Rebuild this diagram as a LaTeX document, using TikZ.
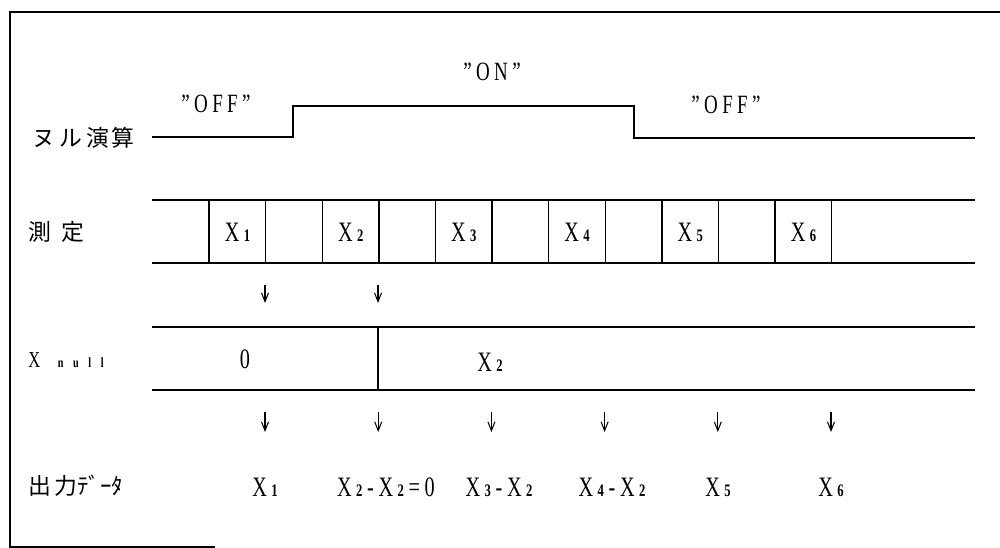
\documentclass[tikz,border=0pt]{standalone}
\usepackage{fontspec}
\setmainfont{Liberation Serif}[FakeStretch=0.72]
\newfontfamily\jp{Noto Sans CJK JP}
\usetikzlibrary{arrows.meta}
\newcommand\Xn[1]{X\kern2.5pt{\fontsize{10}{10}\selectfont\bfseries #1}}

\begin{document}
\begin{tikzpicture}[x=0.2mm, y=-0.2mm,
  rowlbl/.style={anchor=west, inner sep=0pt, font=\jp\fontsize{13}{15}\selectfont},
  val/.style={inner sep=0pt, font=\fontsize{16}{18}\selectfont},
  stat/.style={inner sep=0pt, font=\fontsize{15}{17}\selectfont},
  ln/.style={line width=0.8pt},
  arr/.style={-{Straight Barb[length=5pt,width=4pt]}, line width=0.6pt}
]
  \useasboundingbox (0,0) rectangle (1000,548);
  % frame
  \draw[ln] (215,547) -- (10,547) -- (10,12) -- (1000,12);

  % null calculation
  \node[rowlbl] (nul) at (32,138) {ヌ\hspace{2.5pt}ル\hspace{2.5pt}演\hspace{1pt}算};
  \draw[ln] (152,137) -- (293,137) -- (293,106) -- (634,106) -- (634,138) -- (975,138);
  \node[stat] (off1) at (216,104) {”\,O\,F\,F\,”};
  \node[stat] (on) at (492,72) {”\,O\,N\,”};
  \node[stat] (off2) at (726,105) {”\,O\,F\,F\,”};

  % measurement
  \node[rowlbl] (meas) at (28,232) {測\hspace{6pt}定};
  \draw[ln] (152,200) -- (975,200) (152,263) -- (975,263);
  \foreach \k in {0,...,11}
    \draw[ln] ({209+56.6*\k},200) -- ({209+56.6*\k},263);
  \foreach \i in {1,...,6}
    \node[val] (m\i) at ({237.5+113.2*(\i-1)},232) {\Xn{\i}};

  \foreach \i/\x in {1/265,2/378}{
    \coordinate (pa\i) at (\x,285);
    \coordinate (pb\i) at (\x,303);
    \draw[arr] (pa\i) -- (pb\i);}

  % X null
  \node[anchor=base west, inner sep=0pt, font=\fontsize{13}{14}\selectfont] (xnull) at (28,367)
    {X\hspace{10pt}{\fontsize{8}{8}\selectfont\bfseries n\hspace{5.5pt}u\hspace{5.5pt}l\hspace{5.5pt}l}};
  \draw[ln] (152,327) -- (975,327) (152,390) -- (975,390);
  \draw[ln] (378,327) -- (378,390);
  \node[val] (z0) at (245,359) {0};
  \node[val] (zx) at (490,362) {\Xn{2}};

  \foreach \i in {1,...,6}{
    \coordinate (qa\i) at ({265+113.2*(\i-1)},412);
    \coordinate (qb\i) at ({265+113.2*(\i-1)},432);
    \draw[arr] (qa\i) -- (qb\i);}

  % output data
  \node[rowlbl] (out) at (28,486) {出\hspace{2pt}力ﾃﾞｰﾀ};
  \foreach \n/\x/\t in {o1/265/{\Xn{1}}, o2/386/{\Xn{2}\,-\,\Xn{2}\,=\,0},
      o3/499/{\Xn{3}\,-\,\Xn{2}}, o4/612/{\Xn{4}\,-\,\Xn{2}},
      o5/718/{\Xn{5}}, o6/831/{\Xn{6}}}
    \node[val] (\n) at (\x,487) {\t};
\end{tikzpicture}
\end{document}
